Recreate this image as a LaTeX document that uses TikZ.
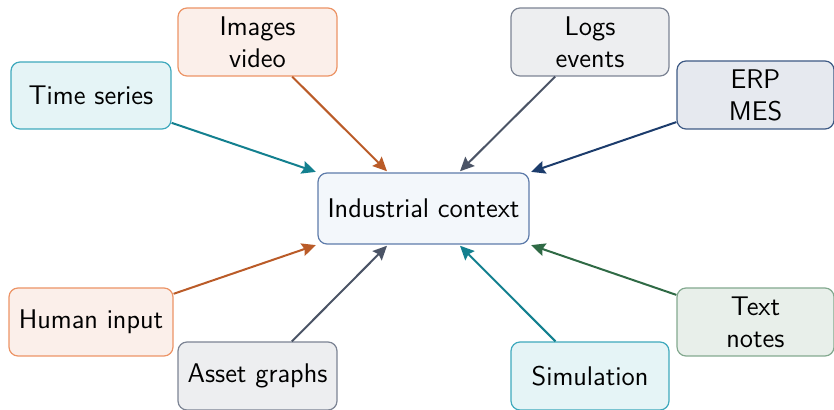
\documentclass[tikz,border=0pt]{standalone}
\usetikzlibrary{arrows.meta,calc}
\definecolor{tealB}{HTML}{3FA9BD}
\definecolor{tealF}{HTML}{E5F4F6}
\definecolor{tealA}{HTML}{13808F}
\definecolor{orB}{HTML}{EC9466}
\definecolor{orF}{HTML}{FBEFEA}
\definecolor{orA}{HTML}{BA5B28}
\definecolor{grB}{HTML}{7C8494}
\definecolor{grF}{HTML}{EDEEF0}
\definecolor{grA}{HTML}{4B5466}
\definecolor{nvB}{HTML}{3E5A85}
\definecolor{nvF}{HTML}{E6E9EF}
\definecolor{nvA}{HTML}{1C3C6C}
\definecolor{gnB}{HTML}{83A98F}
\definecolor{gnF}{HTML}{E8EFEA}
\definecolor{gnA}{HTML}{2F6A45}
\definecolor{ctB}{HTML}{5D7BAA}
\definecolor{ctF}{HTML}{F3F7FB}
\tikzset{
  box/.style={draw, rounded corners=4.5pt, line width=0.6pt, align=center,
    minimum width=#1, minimum height=34pt, inner sep=0pt,
    font=\sffamily\fontsize{13.5}{16}\selectfont},
  box/.default=79.5pt,
  conn/.style={line width=1pt, -{Stealth[length=7pt,width=6.5pt,inset=1pt]}, shorten >=0.8pt}
}
\begin{document}
\begin{tikzpicture}[x=0.5pt,y=-0.5pt]
\useasboundingbox (0,0) rectangle (834,410);
\node[box=105.5pt, minimum height=35.5pt, draw=ctB, fill=ctF] (c) at (423.5,208.5) {Industrial context};
\node[box, draw=orB, fill=orF] (img) at (257.5,42) {Images\\video};
\node[box=80pt, minimum height=33.5pt, draw=tealB, fill=tealF] (ts) at (91,95.5) {Time series};
\node[box=79pt, draw=grB, fill=grF] (logs) at (590,42) {Logs\\events};
\node[box=78.5pt, draw=nvB, fill=nvF] (erp) at (755.5,95) {ERP\\MES};
\node[box=82pt, draw=orB, fill=orF] (hum) at (91,322) {Human input};
\node[box, draw=grB, fill=grF] (asset) at (257.5,376) {Asset graphs};
\node[box=79pt, draw=tealB, fill=tealF] (sim) at (590,376) {Simulation};
\node[box=78.5pt, draw=gnB, fill=gnF] (txt) at (755.5,322) {Text\\notes};
\coordinate (t1) at ($(c.north west)!1/3!(c.north east)$);
\coordinate (t2) at ($(c.north west)!2/3!(c.north east)$);
\coordinate (b1) at ($(c.south west)!1/3!(c.south east)$);
\coordinate (b2) at ($(c.south west)!2/3!(c.south east)$);
\draw[conn, tealA] (ts) -- (c.north west);
\draw[conn, orA] (img) -- (t1);
\draw[conn, grA] (logs) -- (t2);
\draw[conn, nvA] (erp) -- (c.north east);
\draw[conn, orA] (hum) -- (c.south west);
\draw[conn, grA] (asset) -- (b1);
\draw[conn, tealA] (sim) -- (b2);
\draw[conn, gnA] (txt) -- (c.south east);
\end{tikzpicture}
\end{document}
